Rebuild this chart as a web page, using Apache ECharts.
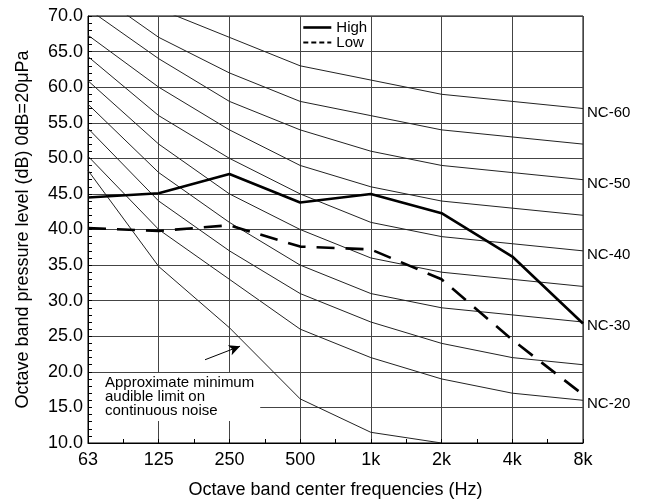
<!DOCTYPE html>
<html>
<head>
<meta charset="utf-8">
<script src="https://cdn.jsdelivr.net/npm/echarts@6/dist/echarts.min.js"></script>
<style>
html,body{margin:0;padding:0;background:#fff;}
#chart{width:650px;height:504px;}
</style>
</head>
<body>
<div id="chart"></div>
<script>
// ---- data ----
const freqLabels = ['63', '125', '250', '500', '1k', '2k', '4k', '8k'];
const highLevels = [44.5, 45.1, 47.8, 43.8, 45.0, 42.3, 36.2, 26.8];
const lowLevels  = [40.2, 39.8, 40.6, 37.6, 37.2, 33.0, 24.5, 16.8];
const nc60 = [77, 71, 67, 63, 61, 59, 58, 57];
const nc55 = [74, 67, 62, 58, 56, 54, 53, 52];
const nc50 = [71, 64, 58, 54, 51, 49, 48, 47];
const nc45 = [67.3, 60, 54, 49, 46, 44, 43, 42];
const nc40 = [64.3, 56, 50, 45, 41, 39, 38, 37];
const nc35 = [60.9, 52, 45, 40, 36, 34, 33, 32];
const nc30 = [57.6, 48, 41, 35, 31, 29, 28, 27];
const nc25 = [54.2, 44, 37, 31, 27, 24, 22, 21];
const nc20 = [50.3, 40, 33, 26, 22, 19, 17, 16];
const audibleLimit = [48.3, 34.8, 26.2, 16.2, 11.5, 10.0];
const annotationText = 'Approximate minimum\naudible limit on\ncontinuous noise';
const arrowFrom = [1.655, 21.7];
const arrowTo = [2.15, 23.6];

const FONT = '"Liberation Sans", Arial, Helvetica, sans-serif';
const toPts = arr => arr.map((v, i) => [i, v]);

const ncCurves = [
  { name: 'NC-60', data: nc60, label: true },
  { name: 'NC-55', data: nc55, label: false },
  { name: 'NC-50', data: nc50, label: true },
  { name: 'NC-45', data: nc45, label: false },
  { name: 'NC-40', data: nc40, label: true },
  { name: 'NC-35', data: nc35, label: false },
  { name: 'NC-30', data: nc30, label: true },
  { name: 'NC-25', data: nc25, label: false },
  { name: 'NC-20', data: nc20, label: true }
];

const series = ncCurves.map(c => ({
  name: c.name,
  type: 'line',
  data: toPts(c.data),
  symbol: 'none',
  silent: true,
  z: 2,
  itemStyle: { color: '#222' },
  lineStyle: { color: '#222', width: 1 },
  endLabel: {
    show: c.label,
    formatter: c.name,
    color: '#000',
    fontFamily: FONT,
    fontSize: 15,
    distance: 4,
    offset: [0, 4]
  }
}));

series.push({
  name: 'audible',
  type: 'line',
  data: toPts(audibleLimit),
  symbol: 'none',
  silent: true,
  z: 2,
  itemStyle: { color: '#222' },
  lineStyle: { color: '#222', width: 1 },
  markLine: {
    silent: true,
    symbol: ['none', 'arrow'],
    symbolSize: [8, 11],
    label: { show: false },
    lineStyle: { color: '#000', width: 1, type: 'solid' },
    data: [[{ coord: arrowFrom }, { coord: arrowTo }]]
  }
});

series.push({
  name: 'High',
  type: 'line',
  data: toPts(highLevels),
  symbol: 'none',
  z: 5,
  itemStyle: { color: '#000' },
  lineStyle: { color: '#000', width: 2.6 }
});
series.push({
  name: 'Low',
  type: 'line',
  data: toPts(lowLevels),
  symbol: 'none',
  z: 5,
  itemStyle: { color: '#000' },
  lineStyle: { color: '#000', width: 2.6, type: [18, 11] }
});

const chart = echarts.init(document.getElementById('chart'), null, { renderer: 'canvas' });
chart.setOption({
  animation: false,
  backgroundColor: '#fff',
  textStyle: { fontFamily: FONT },
  grid: { left: 88, right: 67, top: 16, bottom: 61, show: true, borderColor: '#000', borderWidth: 1 },
  legend: {
    left: 302,
    top: 20,
    orient: 'vertical',
    itemWidth: 28,
    itemHeight: 14,
    itemGap: 0,
    padding: 0,
    selectedMode: false,
    itemStyle: { opacity: 0 },
    textStyle: { fontFamily: FONT, fontSize: 15, color: '#000' },
    data: [
      { name: 'High', itemStyle: { opacity: 0 }, lineStyle: { width: 2.6, color: '#000' } },
      { name: 'Low', itemStyle: { opacity: 0 }, lineStyle: { width: 2, color: '#000', type: [5, 3] } }
    ]
  },
  xAxis: {
    type: 'value',
    min: 0,
    max: 7,
    interval: 1,
    name: 'Octave band center frequencies (Hz)',
    nameLocation: 'middle',
    nameGap: 38,
    nameTextStyle: { fontFamily: FONT, fontSize: 18, color: '#000' },
    axisLine: { show: true, lineStyle: { color: '#000', width: 1 } },
    axisTick: { show: true, inside: true, length: 4, lineStyle: { color: '#000' } },
    minorTick: { show: true, splitNumber: 2, length: 4, lineStyle: { color: '#000' } },
    axisLabel: {
      color: '#000', fontFamily: FONT, fontSize: 18, margin: 8,
      formatter: v => freqLabels[Math.round(v)]
    },
    splitLine: { show: true, lineStyle: { color: '#444', width: 1 } }
  },
  yAxis: {
    type: 'value',
    min: 10,
    max: 70,
    interval: 5,
    name: 'Octave band pressure level (dB) 0dB=20\u03bcPa',
    nameLocation: 'middle',
    nameGap: 56,
    nameTextStyle: { fontFamily: FONT, fontSize: 18, color: '#000' },
    axisLine: { show: true, lineStyle: { color: '#000', width: 1 } },
    axisTick: { show: true, inside: true, length: 4, lineStyle: { color: '#000' } },
    minorTick: { show: true, splitNumber: 5, length: 4, lineStyle: { color: '#000' } },
    axisLabel: {
      color: '#000', fontFamily: FONT, fontSize: 18, margin: 5,
      formatter: v => v.toFixed(1)
    },
    splitLine: { show: true, lineStyle: { color: '#444', width: 1 } }
  },
  graphic: [{
    type: 'text',
    left: 92,
    top: 373,
    z: 10,
    style: {
      text: annotationText,
      fontFamily: FONT,
      fontSize: 15,
      lineHeight: 14,
      fill: '#000',
      backgroundColor: '#fff',
      padding: [3, 6, 3, 13]
    }
  }],
  series: series
});
</script>
</body>
</html>
